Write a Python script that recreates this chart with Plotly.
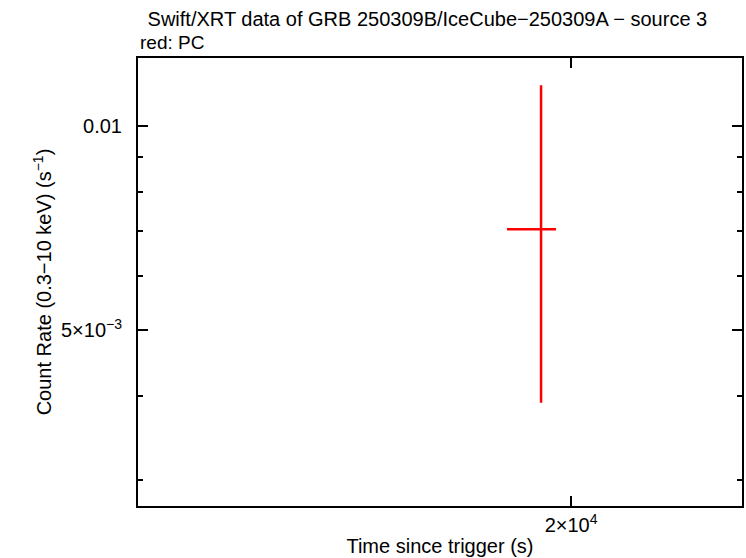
import math
import plotly.graph_objects as go

# Data
t_mid = [19155]
t_lo = [18239]
t_hi = [19572]
rate = [0.00704]
rate_lo = [0.003906]
rate_hi = [0.01149]

x_tickvals = [20000]
x_ticktext = ["2×10<sup>4</sup>"]
y_tickvals = [0.005, 0.01]
y_ticktext = ["5×10<sup>−3</sup>", "0.01"]
y_minor = [0.003, 0.004, 0.006, 0.007, 0.008, 0.009]

x_range = [10729, 25573]
y_range = [0.002749, 0.0126]

FONT = "Liberation Sans, Arial, sans-serif"

fig = go.Figure()
fig.add_trace(go.Scatter(
    x=t_mid, y=rate, mode="markers",
    marker=dict(size=1, color="red", opacity=0),
    error_x=dict(type="data", symmetric=False,
                 array=[h - m for h, m in zip(t_hi, t_mid)],
                 arrayminus=[m - l for m, l in zip(t_mid, t_lo)],
                 color="red", thickness=2.5, width=0),
    error_y=dict(type="data", symmetric=False,
                 array=[h - m for h, m in zip(rate_hi, rate)],
                 arrayminus=[m - l for m, l in zip(rate, rate_lo)],
                 color="red", thickness=2.5, width=0),
    showlegend=False,
))

axis_common = dict(
    showgrid=False, zeroline=False, showline=True, linecolor="black", linewidth=2,
    mirror="allticks", ticks="inside", ticklen=10, tickwidth=2, tickcolor="black",
    tickfont=dict(family=FONT, size=20, color="black"), automargin=False,
)

fig.update_xaxes(
    type="log", range=[math.log10(v) for v in x_range],
    tickmode="array", tickvals=x_tickvals, ticktext=x_ticktext,
    title=dict(text="Time since trigger (s)", font=dict(family=FONT, size=20, color="black"), standoff=4),
    **axis_common,
)
fig.update_yaxes(
    type="log", range=[math.log10(v) for v in y_range],
    tickmode="array", tickvals=y_tickvals, ticktext=y_ticktext,
    ticklabelstandoff=10,
    minor=dict(tickmode="array", tickvals=y_minor, ticks="inside", ticklen=5, tickwidth=2, tickcolor="black"),
    title=dict(text="Count Rate (0.3−10 keV) (s<sup>−1</sup>)", font=dict(family=FONT, size=20, color="black"), standoff=4),
    **axis_common,
)

fig.update_layout(
    width=746, height=558,
    margin=dict(l=138, r=4, t=58, b=52),
    plot_bgcolor="white", paper_bgcolor="white",
    font=dict(family=FONT, size=19, color="black"),
    annotations=[
        dict(text=" Swift/XRT data of GRB 250309B/IceCube−250309A − source 3",
             xref="paper", yref="paper", x=0, y=1, xshift=2, yshift=39,
             xanchor="left", yanchor="middle", showarrow=False,
             font=dict(family=FONT, size=20, color="black")),
        dict(text="red: PC",
             xref="paper", yref="paper", x=0, y=1, yshift=16,
             xanchor="left", yanchor="middle", showarrow=False,
             font=dict(family=FONT, size=19, color="black")),
    ],
)

fig.write_html(
    "out.html",
    config={"displayModeBar": False},
    post_script="document.body.style.margin='0';document.body.style.padding='0';",
)
